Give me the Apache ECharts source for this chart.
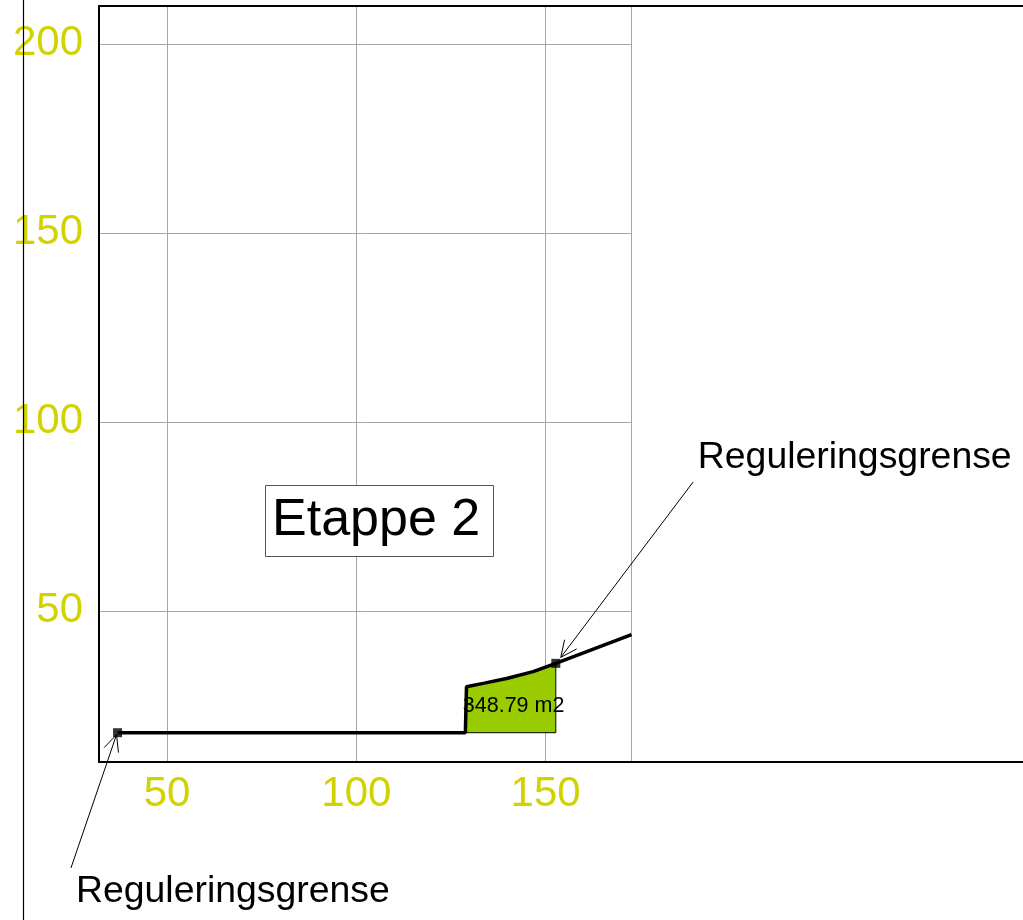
<!DOCTYPE html>
<html>
<head>
<meta charset="utf-8">
<script src="https://cdn.jsdelivr.net/npm/echarts@6/dist/echarts.min.js"></script>
<style>
  html, body { margin: 0; padding: 0; background: #fff; }
  #chart { width: 1023px; height: 920px; }
</style>
</head>
<body>
<div id="chart"></div>
<script>
// profile data (x = distance, y = level)
const xTicks = [50, 100, 150]
const yTicks = [50, 100, 150, 200]
const groundLine = [[36.9, 17.75], [128.8, 17.75], [129.1, 29.9], [133.5, 30.8], [139.7, 32.1], [146.7, 33.9], [152.7, 36.1], [172.7, 43.7]]
const cutArea = [[128.8, 17.75], [129.1, 29.9], [133.5, 30.8], [139.7, 32.1], [146.7, 33.9], [152.7, 36.1], [152.7, 17.75]]
const areaText = '348.79 m2'
const regPoints = [[36.9, 17.75], [152.7, 36.1]]
const regText = 'Reguleringsgrense'
const stageTitle = 'Etappe 2'

const FONT = 'Liberation Sans, Arial, sans-serif'
const LABEL_COLOR = '#d2d200'
const GRID_COLOR = '#a6a6a6'

const chart = echarts.init(document.getElementById('chart'))

const hidden = { show: false }

chart.setOption({
  animation: false,
  backgroundColor: '#fff',
  title: {
    text: stageTitle,
    left: 265,
    top: 485,
    padding: [10, 14, 10, 7],
    backgroundColor: '#fff',
    borderColor: '#555',
    borderWidth: 1,
    textStyle: { fontFamily: FONT, fontSize: 52, fontWeight: 'normal', color: '#000' }
  },
  grid: [
    // data area
    { left: 99, top: 6, width: 532.5, bottom: 158 },
    // outer frame that runs past the right edge
    { left: 99, top: 6, right: -40, bottom: 158 }
  ],
  xAxis: [
    {
      type: 'value', gridIndex: 0, min: 32, max: 172.7,
      axisLine: hidden,
      axisTick: { show: false, customValues: xTicks },
      axisLabel: { customValues: xTicks, color: LABEL_COLOR, fontSize: 42, fontFamily: FONT, margin: 11 },
      splitLine: { show: true, lineStyle: { color: GRID_COLOR, width: 1 } }
    },
    {
      type: 'value', gridIndex: 1, position: 'bottom', min: 0, max: 1,
      axisLine: { show: true, lineStyle: { color: '#000', width: 2 } },
      axisTick: hidden, axisLabel: hidden, splitLine: hidden
    },
    {
      type: 'value', gridIndex: 1, position: 'top', min: 0, max: 1,
      axisLine: { show: true, lineStyle: { color: '#000', width: 2 } },
      axisTick: hidden, axisLabel: hidden, splitLine: hidden
    }
  ],
  yAxis: [
    {
      type: 'value', gridIndex: 0, min: 10, max: 210,
      axisLine: hidden,
      axisTick: { show: false, customValues: yTicks },
      axisLabel: { customValues: yTicks, color: LABEL_COLOR, fontSize: 42, fontFamily: FONT, margin: 16 },
      splitLine: { show: true, lineStyle: { color: GRID_COLOR, width: 1 } }
    },
    {
      type: 'value', gridIndex: 0, position: 'right', min: 10, max: 210,
      axisLine: { show: true, lineStyle: { color: GRID_COLOR, width: 1 } },
      axisTick: hidden, axisLabel: hidden, splitLine: hidden
    },
    {
      type: 'value', gridIndex: 1, position: 'left', min: 0, max: 1,
      axisLine: { show: true, lineStyle: { color: '#000', width: 2 } },
      axisTick: hidden, axisLabel: hidden, splitLine: hidden
    }
  ],
  series: [
    {
      type: 'custom',
      xAxisIndex: 0,
      yAxisIndex: 0,
      data: [0],
      z: 2,
      renderItem(params, api) {
        const pts = cutArea.map(p => api.coord(p))
        return {
          type: 'polygon',
          shape: { points: pts },
          style: { fill: '#99cc00', stroke: '#000', lineWidth: 1 },
          textContent: {
            style: { text: areaText, fontFamily: FONT, fontSize: 21.5, fill: '#000' }
          },
          textConfig: { position: 'inside', offset: [3, 8] }
        }
      }
    },
    {
      type: 'line',
      xAxisIndex: 0,
      yAxisIndex: 0,
      data: groundLine,
      showSymbol: false,
      z: 3,
      lineStyle: { color: '#000', width: 3.5 }
    },
    {
      type: 'scatter',
      xAxisIndex: 0,
      yAxisIndex: 0,
      data: regPoints,
      symbol: 'rect',
      symbolSize: 9,
      z: 4,
      itemStyle: { color: '#000' }
    }
  ]
})

// annotation arrows anchored on the regulation points
const annotLayout = [
  { tip: [-1, 2], from: [-46.6, 135.3], text: [-41.6, 158.5] },
  { tip: [5, -6], from: [137.3, -181.3], text: [142, -205.5] }
]

function arrowParts(tip, from) {
  const ang = Math.atan2(from[1] - tip[1], from[0] - tip[0])
  const head = 18
  const spread = 25 * Math.PI / 180
  return [
    { type: 'line', shape: { x1: from[0], y1: from[1], x2: tip[0], y2: tip[1] }, style: { stroke: '#000', lineWidth: 1 } },
    {
      type: 'polyline',
      shape: {
        points: [
          [tip[0] + head * Math.cos(ang + spread), tip[1] + head * Math.sin(ang + spread)],
          tip,
          [tip[0] + head * Math.cos(ang - spread), tip[1] + head * Math.sin(ang - spread)]
        ]
      },
      style: { stroke: '#000', fill: null, lineWidth: 1 }
    }
  ]
}

const graphics = [
  { type: 'line', shape: { x1: 23.5, y1: 0, x2: 23.5, y2: 920 }, style: { stroke: '#000', lineWidth: 1.2 }, z: 1 }
]
regPoints.forEach((p, i) => {
  const px = chart.convertToPixel({ gridIndex: 0 }, p)
  const lay = annotLayout[i]
  const tip = [px[0] + lay.tip[0], px[1] + lay.tip[1]]
  const from = [px[0] + lay.from[0], px[1] + lay.from[1]]
  arrowParts(tip, from).forEach(g => graphics.push(Object.assign({ z: 10 }, g)))
  graphics.push({
    type: 'text',
    x: px[0] + lay.text[0],
    y: px[1] + lay.text[1],
    z: 10,
    style: { text: regText, fontFamily: FONT, fontSize: 37.4, fill: '#000', align: 'left', verticalAlign: 'middle' }
  })
})

chart.setOption({ graphic: graphics })
</script>
</body>
</html>
